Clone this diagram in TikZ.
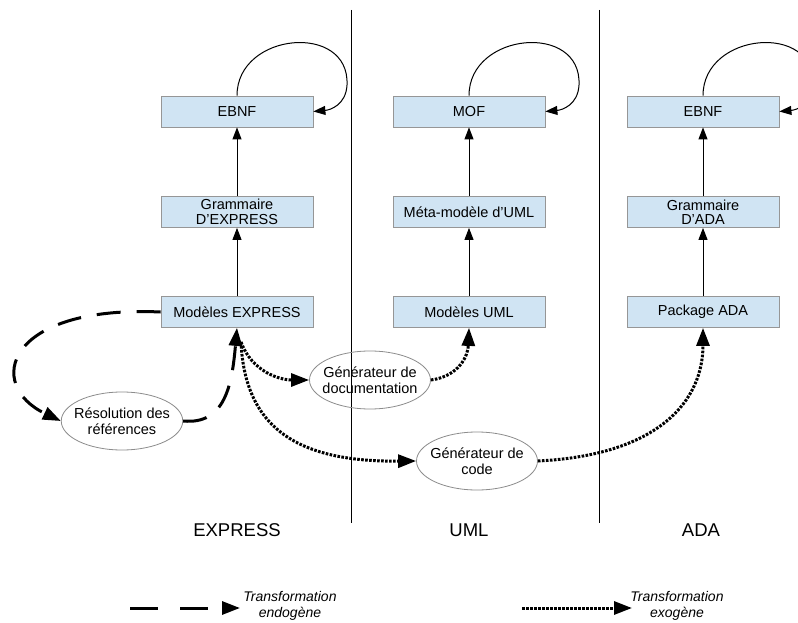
\documentclass[tikz,border=0pt]{standalone}
\usepackage{fontspec}
\setmainfont{Liberation Sans}
\usetikzlibrary{arrows.meta,shapes.geometric}
\definecolor{boxfill}{RGB}{208,228,243}
\definecolor{boxline}{RGB}{150,150,150}
\definecolor{ellline}{RGB}{140,140,140}
\tikzset{
  mbox/.style={draw=boxline,fill=boxfill,line width=0.8pt,minimum width=152pt,minimum height=31pt,inner sep=1pt,align=center,font=\fontsize{14.5}{14.5}\selectfont},
  gen/.style={ellipse,draw=ellline,line width=0.8pt,minimum width=121pt,minimum height=58pt,inner xsep=-5pt,inner ysep=-2pt,align=center,font=\fontsize{14.5}{16}\selectfont},
  thinarrow/.style={line width=1pt,-{Triangle[length=12pt,width=9pt]}},
  endo/.style={line width=3pt,dash pattern=on 24pt off 16pt,-{Triangle[length=18pt,width=13pt]}},
  exo/.style={line width=3pt,dash pattern=on 2.6pt off 1.4pt,-{Triangle[length=18pt,width=13pt]}},
  collabel/.style={font=\fontsize{18.5}{20}\selectfont},
  legtext/.style={font=\fontsize{14}{16}\selectfont\itshape,align=center}
}
\begin{document}
\begin{tikzpicture}[x=1pt,y=-1pt]
\clip (0,0) rectangle (798,623);
\fill[white] (0,0) rectangle (798,623);
% separators
\draw[line width=1pt] (351,10) -- (351,523);
\draw[line width=1pt] (599,10) -- (599,523);
% boxes
\node[mbox] (ebnf1) at (237,111.5) {EBNF};
\node[mbox] (gexp) at (237,212) {Grammaire\\D'EXPRESS};
\node[mbox] (mexp) at (237,312) {Modèles EXPRESS};
\node[mbox] (mof) at (469,111.5) {MOF};
\node[mbox] (muml) at (469,212) {Méta-modèle d'UML};
\node[mbox] (models) at (469,312) {Modèles UML};
\node[mbox] (ebnf2) at (703,111.5) {EBNF};
\node[mbox] (gada) at (703,212) {Grammaire\\D'ADA};
\node[mbox] (pada) at (703,312) {Package ADA};
% ellipses
\node[gen] (res) at (122,421) {Résolution des\\références};
\node[gen] (gdoc) at (370,380) {Générateur de\\documentation};
\node[gen] (gcode) at (477,461) {Générateur de\\code};
% column labels
\node[collabel] (lexp) at (237,530) {EXPRESS};
\node[collabel] (luml) at (469,530) {UML};
\node[collabel] (lada) at (701,530) {ADA};
% vertical arrows
\draw[thinarrow] (mexp) -- (gexp);
\draw[thinarrow] (gexp) -- (ebnf1);
\draw[thinarrow] (models) -- (muml);
\draw[thinarrow] (muml) -- (mof);
\draw[thinarrow] (pada) -- (gada);
\draw[thinarrow] (gada) -- (ebnf2);
% self loops
\draw[thinarrow] (ebnf1.north) .. controls (237,32) and (350,22) .. (347,85) .. controls (346,105) and (330,110) .. (ebnf1.east);
\draw[thinarrow] (mof.north) .. controls (469,32) and (582,22) .. (579,85) .. controls (578,105) and (562,110) .. (mof.east);
\draw[thinarrow] (ebnf2.north) .. controls (703,32) and (816,22) .. (813,85) .. controls (812,105) and (796,110) .. (ebnf2.east);
% endogenous loop
\draw[endo] (mexp.west) .. controls (5,305) and (-15,385) .. (res.west);
\draw[endo] (res.east) .. controls (225,425) and (232,385) .. (mexp.south);
% exogenous
\coordinate (src) at (241,342);
\draw[exo] (src) .. controls (252,372) and (280,380) .. (gdoc.west);
\draw[exo] (gdoc.east) .. controls (460,376) and (468,355) .. (models.south);
\draw[exo] (src) .. controls (245,430) and (300,462) .. (gcode.west);
\draw[exo] (gcode.east) .. controls (660,455) and (703,400) .. (pada.south);
% legend
\coordinate (la) at (130,608);
\coordinate (lb) at (240,608);
\draw[line width=3pt,dash pattern=on 28pt off 22pt,-{Triangle[length=18pt,width=13pt]}] (la) -- (lb);
\node[legtext] (lt1) at (290,606) {Transformation\\endogène};
\coordinate (lc) at (522,608);
\coordinate (ld) at (632,608);
\draw[exo] (lc) -- (ld);
\node[legtext] (lt2) at (677,606) {Transformation\\exogène};
\end{tikzpicture}
\end{document}
